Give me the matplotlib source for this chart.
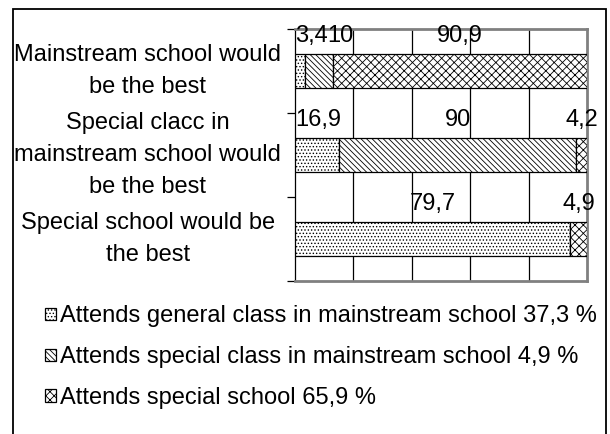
import numpy as np
import matplotlib
matplotlib.use("Agg")
import matplotlib.pyplot as plt
import matplotlib.transforms as mtransforms
from matplotlib.patches import Rectangle

plt.rcParams['font.family'] = ['Liberation Sans', 'DejaVu Sans']
plt.rcParams['hatch.linewidth'] = 0.6

# answers: where would be the best school placement
categories = ["Mainstream school would\nbe the best",
              "Special clacc in\nmainstream school would\nbe the best",
              "Special school would be\nthe best"]
series_names = ["Attends general class in mainstream school 37,3 %",
                "Attends special class in mainstream school 4,9 %",
                "Attends special school 65,9 %"]
general_class = [3.4, 16.9, 79.7]
special_class = [10, 90, 0]
special_school = [90.9, 4.2, 4.9]
hatches = ['.....', '\\' * 6, 'xxxx']

values = np.array([general_class, special_class, special_school])
shares = values / values.sum(axis=0) * 100  # 100 % stacked

FS = 17

fig = plt.figure(figsize=(6.1, 4.34), dpi=100)
ax = fig.add_axes([0.4836, 0.3525, 0.4787, 0.5806])

y = np.arange(len(categories))
left = np.zeros(len(categories))
for k in range(3):
    ax.barh(y, shares[k], left=left, height=0.405, color='white',
            edgecolor='black', linewidth=0.9, hatch=hatches[k],
            label=series_names[k], zorder=3)
    left = left + shares[k]

ax.set_xlim(0, 100)
ax.set_ylim(2.5, -0.5)
ax.set_xticks([20, 40, 60, 80])
ax.grid(axis='x', color='black', linewidth=0.9, zorder=1)
ax.tick_params(axis='x', length=0, labelbottom=False)
ax.set_yticks(y)
ax.set_yticklabels(categories, fontsize=FS, ha='center', va='center',
                   multialignment='center', linespacing=1.6)
shift = mtransforms.ScaledTranslation(0, 7 / 100, fig.dpi_scale_trans)
for lab in ax.get_yticklabels():
    lab.set_transform(lab.get_transform() + shift)
ax.tick_params(axis='y', length=0, pad=106)
ax.set_yticks([-0.5, 0.5, 1.5, 2.5], minor=True)
ax.tick_params(axis='y', which='minor', length=6, width=0.9, color='black')
for s in ['top', 'right', 'bottom']:
    ax.spines[s].set_color('#808080')
    ax.spines[s].set_linewidth(2)
ax.spines['left'].set_color('black')
ax.spines['left'].set_linewidth(0.9)

# value labels above each bar, nudged right when they would collide
fig.canvas.draw()
renderer = fig.canvas.get_renderer()
to_data = ax.transData.inverted()
for i in range(len(categories)):
    prev_right = 0.0
    start = 0.0
    for k in range(3):
        v = values[k][i]
        w = shares[k][i]
        if v == 0:
            continue
        label = f"{v:g}".replace('.', ',')
        t = ax.text(start + w / 2, i - 0.42, label, fontsize=FS,
                    ha='center', va='center', zorder=4)
        bb = t.get_window_extent(renderer)
        x0 = to_data.transform((bb.x0, 0))[0]
        x1 = to_data.transform((bb.x1, 0))[0]
        half = (x1 - x0) / 2
        cx = max(start + w / 2, prev_right + half)
        t.set_x(cx)
        prev_right = cx + half
        start += w

fig.legend(loc='upper left', bbox_to_anchor=(0.0585, 0.318), frameon=False,
           fontsize=FS, handlelength=0.45, handleheight=0.45, handletextpad=0.2,
           labelspacing=0.8, borderaxespad=0)

fig.patches.append(Rectangle((13 / 610, -0.1), 593 / 610, 1.1 - 9 / 434,
                             transform=fig.transFigure, fill=False,
                             edgecolor='black', linewidth=1.3))

fig.savefig('out.png', dpi=100)
